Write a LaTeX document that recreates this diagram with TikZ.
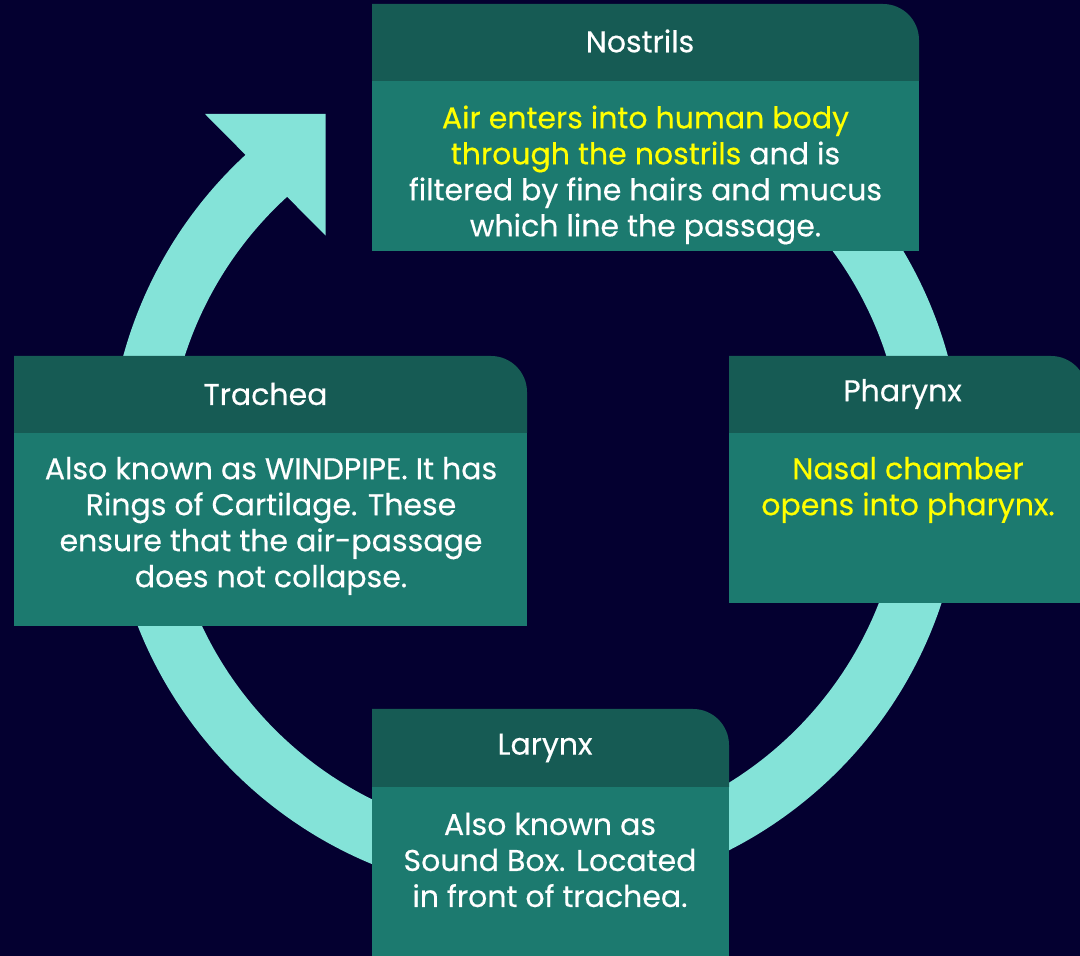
\documentclass[tikz,border=0pt]{standalone}
\usepackage{fontspec}
\setmainfont{Poppins}
\newfontfamily\cardfont{Poppins}[FakeBold=0.4]
\definecolor{bg}{HTML}{040030}
\definecolor{hdr}{HTML}{165B54}
\definecolor{bdy}{HTML}{1C7A6F}
\definecolor{ringc}{HTML}{84E3D8}
\definecolor{ylw}{HTML}{FFFF00}
\newcommand\cardbox[5]{%
  \fill[bdy] (#1,#2) rectangle (#3,#5);
  \fill[hdr] (#1,#5) -- (#1,#4) -- (#3-36,#4) arc[start angle=90,end angle=0,radius=36] -- (#3,#5) -- cycle;
}
\begin{document}
\begin{tikzpicture}[x=1pt,y=1pt,
  titletxt/.style={text=white, font=\cardfont\fontsize{30}{36}\selectfont, inner sep=0pt},
  bodytxt/.style={text=white, font=\cardfont\fontsize{30}{36}\selectfont, align=center, inner sep=0pt}]
\useasboundingbox (0,0) rectangle (1080,956);
\clip (0,0) rectangle (1080,956);
\fill[bg] (0,0) rectangle (1080,956);
% ring arrow
\coordinate (rc) at (535.5,487);
\draw[ringc, line width=59pt] (rc) ++(90:398) arc[start angle=90, end angle=-230, radius=398];
\fill[ringc] (205,842) -- (325.7,842) -- (325.7,720.3) -- cycle;
% cards: x1, ybottom, x2, ytop, yheaderbottom
\cardbox{372}{705}{919}{952}{875}
\cardbox{14}{330}{527}{600}{523}
\cardbox{729}{353}{1087}{600}{523}
\cardbox{372}{-10}{729}{247}{169}
% Nostrils
\node[titletxt] (t1) at (640,915) {Nostrils};
\node[bodytxt] (b1) at (645.5,781) {\textcolor{ylw}{Air enters into human body}\\\textcolor{ylw}{through the nostrils} and is\\filtered by fine hairs and mucus\\which line the passage.};
% Trachea
\node[titletxt] (t2) at (265.5,562) {Trachea};
\node[bodytxt] (b2) at (271,430) {Also known as WINDPIPE. It has\\Rings of Cartilage. These\\ensure that the air-passage\\does not collapse.};
% Pharynx
\node[titletxt] (t3) at (902.5,562) {Pharynx};
\node[bodytxt, text=ylw] (b3) at (908,466) {Nasal chamber\\opens into pharynx.};
% Larynx
\node[titletxt] (t4) at (545,208) {Larynx};
\node[bodytxt] (b4) at (550,96) {Also known as\\Sound Box. Located\\in front of trachea.};
\end{tikzpicture}
\end{document}
